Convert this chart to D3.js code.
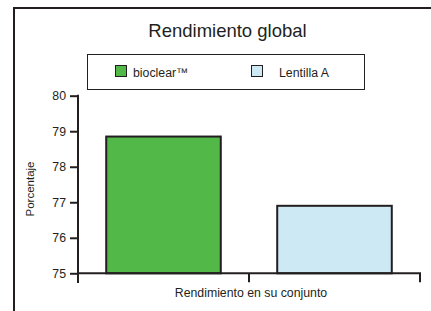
<!DOCTYPE html>
<html><head><meta charset="utf-8">
<script src="https://cdn.jsdelivr.net/npm/d3@7"></script>
<style>body{margin:0;background:#fff;}svg{display:block;font-family:"Liberation Sans",Arial,sans-serif;}</style>
</head><body>
<svg id="c" width="431" height="311"></svg>
<script>
const title = "Rendimiento global";
const category = "Rendimiento en su conjunto";
const seriesNames = ["bioclear™", "Lentilla A"];
const seriesValues = [78.85, 76.9];
const seriesColors = ["#52b848", "#cde9f3"];
const yTicks = [75, 76, 77, 78, 79, 80];
const yLabel = "Porcentaje";

const ink = "#231f20";
const svg = d3.select("#c");

// frame
svg.append("rect").attr("x", 14).attr("y", 8).attr("width", 440).attr("height", 330)
  .attr("fill", "none").attr("stroke", ink).attr("stroke-width", 2);

svg.append("text").attr("x", 227.5).attr("y", 37).attr("text-anchor", "middle")
  .attr("font-size", 18.5).attr("fill", ink).text(title);

// legend
svg.append("rect").attr("x", 87.5).attr("y", 54.5).attr("width", 277).attr("height", 35)
  .attr("fill", "#fff").attr("stroke", ink).attr("stroke-width", 1);
const legX = [115.5, 251.5], legTextX = [133, 279];
seriesNames.forEach((n, i) => {
  svg.append("rect").attr("x", legX[i]).attr("y", 65.5).attr("width", 11).attr("height", 11)
    .attr("fill", seriesColors[i]).attr("stroke", ink).attr("stroke-width", 1);
  svg.append("text").attr("x", legTextX[i]).attr("y", 76.5).attr("font-size", 12.3)
    .attr("fill", ink).text(n);
});

const y = d3.scaleLinear().domain([75, 80]).range([273.3, 95.7]);
const x = d3.scaleBand().domain(seriesNames).range([78, 420]).padding(0);
const inset = 0.165;

// bars
svg.selectAll("rect.bar").data(seriesNames).enter().append("rect").attr("class", "bar")
  .attr("x", d => x(d) + x.bandwidth() * inset)
  .attr("width", x.bandwidth() * (1 - 2 * inset))
  .attr("y", (d, i) => y(seriesValues[i]))
  .attr("height", (d, i) => y(75) - y(seriesValues[i]))
  .attr("fill", (d, i) => seriesColors[i])
  .attr("stroke", ink).attr("stroke-width", 2);

// y axis
const ya = svg.append("g").attr("transform", "translate(78,0)")
  .call(d3.axisLeft(y).tickValues(yTicks).tickFormat(d3.format("d")).tickSize(8).tickPadding(4).tickSizeOuter(0));
ya.select(".domain").attr("stroke", ink).attr("stroke-width", 2).attr("d", `M0,${y(80)-1}V283`);
ya.selectAll(".tick line").attr("stroke", ink).attr("stroke-width", 2);
ya.selectAll(".tick text").attr("font-size", 12.3).attr("fill", ink).attr("font-family", "Liberation Sans, Arial, sans-serif");
ya.select(".domain").raise();

// x axis
const xa = svg.append("g").attr("transform", `translate(0,${y(75)})`);
xa.append("path").attr("d", `M77,0H421`).attr("stroke", ink).attr("stroke-width", 2).attr("fill", "none");
const bounds = [x.range()[0], x(seriesNames[1]), x.range()[1]];
xa.selectAll("line.xt").data(bounds).enter().append("line")
  .attr("x1", d => d).attr("x2", d => d).attr("y1", 0).attr("y2", 9)
  .attr("stroke", ink).attr("stroke-width", 2);

svg.append("text").attr("x", 251).attr("y", 297).attr("text-anchor", "middle")
  .attr("font-size", 12.3).attr("fill", ink).text(category);

svg.append("text").attr("transform", "translate(34,189) rotate(-90)")
  .attr("text-anchor", "middle").attr("font-size", 11.5).attr("fill", ink).text(yLabel);
</script>
</body></html>
